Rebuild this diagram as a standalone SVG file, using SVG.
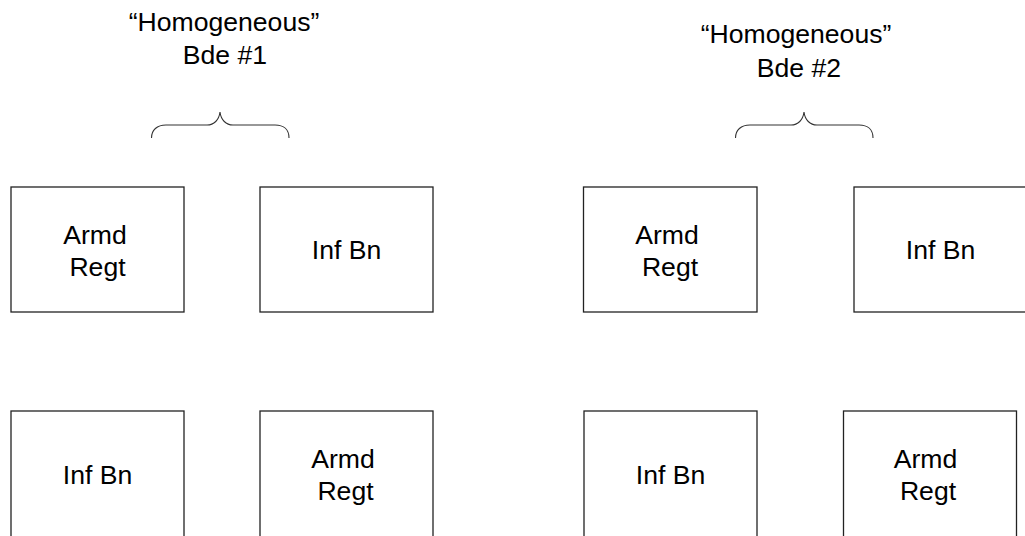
<svg xmlns="http://www.w3.org/2000/svg" width="1025" height="536" viewBox="0 0 1025 536">
<style>
.box{fill:#fff;stroke:#222;stroke-width:1.3}
.brace{fill:none;stroke:#333;stroke-width:1.1}
text{font-family:"Liberation Sans",Arial,sans-serif;font-size:26.6px;fill:#000;text-anchor:middle}
</style>
<rect width="1025" height="536" fill="#fff"/>
<g id="title1"><text x="224" y="31">“Homogeneous”</text><text x="225" y="63.5">Bde #1</text></g>
<g id="title2"><text x="796" y="43">“Homogeneous”</text><text x="799" y="77">Bde #2</text></g>
<g id="connectors">
<path class="brace" d="M151.5,138 C151.5,130 157,125 166,125 L207,125 C214,125 219,120 220,112 C221,120 226,125 233,125 L275,125 C284,125 289,130 289,138"/>
<path class="brace" d="M735.5,138 C735.5,130 741,125 750,125 L791,125 C798,125 803,120 804,112 C805,120 810,125 817,125 L859,125 C868,125 873,130 873,138"/>
</g>
<g id="n1"><rect class="box" x="11" y="187" width="173" height="125"/><text x="95" y="243.5">Armd</text><text x="97.5" y="275.5">Regt</text></g>
<g id="n2"><rect class="box" x="260" y="187" width="173" height="125"/><text x="346.5" y="259">Inf Bn</text></g>
<g id="n3"><rect class="box" x="583.5" y="187" width="173.5" height="125"/><text x="667" y="243.5">Armd</text><text x="670" y="275.5">Regt</text></g>
<g id="n4"><rect class="box" x="854" y="187" width="174" height="125"/><text x="940.5" y="259">Inf Bn</text></g>
<g id="n5"><rect class="box" x="11" y="411" width="173" height="127"/><text x="97.5" y="484">Inf Bn</text></g>
<g id="n6"><rect class="box" x="260" y="411" width="173" height="127"/><text x="343" y="468">Armd</text><text x="345.5" y="500">Regt</text></g>
<g id="n7"><rect class="box" x="584" y="411" width="173" height="127"/><text x="670.5" y="484">Inf Bn</text></g>
<g id="n8"><rect class="box" x="843.5" y="411" width="173" height="127"/><text x="925.5" y="468">Armd</text><text x="928" y="500">Regt</text></g>
</svg>
